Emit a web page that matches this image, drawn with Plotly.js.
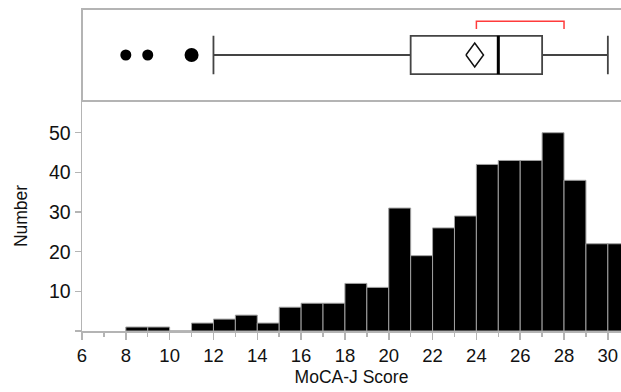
<!DOCTYPE html>
<html><head><meta charset="utf-8">
<script src="https://cdn.plot.ly/plotly-3.0.1.min.js"></script>
<style>html,body{margin:0;padding:0;background:#fff}#chart{width:621px;height:392px}</style>
</head><body><div id="chart"></div>
<script>
// MoCA-J score values and the number of subjects at each score
const scores = [8,9,10,11,12,13,14,15,16,17,18,19,20,21,22,23,24,25,26,27,28,29,30];
const counts = [1,1,0,2,3,4,2,6,7,7,12,11,31,19,26,29,42,43,43,50,38,22,22];
const xTickVals = [6,8,10,12,14,16,18,20,22,24,26,28,30];
const yTickVals = [0,10,20,30,40,50];
const yTickText = ['', '10', '20', '30', '40', '50'];

// expand to individual observations
const obs = [];
scores.forEach((s, i) => { for (let k = 0; k < counts[i]; k++) obs.push(s); });
obs.sort((a, b) => a - b);
const n = obs.length;
function quant(p) {
  const pos = p * (n + 1);
  const lo = Math.floor(pos), hi = Math.ceil(pos);
  const a = obs[Math.max(0, Math.min(n - 1, lo - 1))];
  const b = obs[Math.max(0, Math.min(n - 1, hi - 1))];
  return a + (b - a) * (pos - lo);
}
const q1 = quant(0.25), med = quant(0.5), q3 = quant(0.75);
const iqr = q3 - q1;
const lowLim = q1 - 1.5 * iqr, highLim = q3 + 1.5 * iqr;
const inside = obs.filter(v => v >= lowLim && v <= highLim);
const lf = Math.min(...inside), uf = Math.max(...inside);
const mean = obs.reduce((a, b) => a + b, 0) / n;
const sd = Math.sqrt(obs.reduce((a, b) => a + (b - mean) * (b - mean), 0) / (n - 1));
const ci = 1.966 * sd / Math.sqrt(n);
// outliers grouped
const outX = [], outN = [];
scores.forEach((s, i) => { if (counts[i] > 0 && (s < lowLim || s > highLim)) { outX.push(s); outN.push(counts[i]); } });
// shortest half
const h = Math.floor(n / 2);
let best = Infinity, shA = 0, shB = 0;
for (let i = 0; i + h < n; i++) {
  const w = obs[i + h] - obs[i];
  if (w < best) { best = w; shA = obs[i]; shB = obs[i + h]; }
}

const gray = '#b4b4b4';
const traces = [
  { type: 'bar', x: scores, y: counts, offset: 0, width: 1,
    marker: { color: '#000', line: { color: '#a0a0a0', width: 1 } },
    xaxis: 'x', yaxis: 'y', hoverinfo: 'skip' },
  { type: 'box', orientation: 'h', y: [0], q1: [q1], median: [med], q3: [q3],
    lowerfence: [lf], upperfence: [uf], boxpoints: false, width: 1, whiskerwidth: 1,
    fillcolor: 'rgba(255,255,255,0)', line: { color: '#444', width: 1.8 },
    xaxis: 'x', yaxis: 'y2', hoverinfo: 'skip' },
  { type: 'scatter', mode: 'lines', x: [med, med], y: [-0.5, 0.5],
    line: { color: '#000', width: 3 }, xaxis: 'x', yaxis: 'y2', hoverinfo: 'skip' },
  { type: 'scatter', mode: 'lines', x: [mean - ci, mean, mean + ci, mean, mean - ci], y: [0, 0.31, 0, -0.31, 0],
    line: { color: '#111', width: 1.5 }, xaxis: 'x', yaxis: 'y2', hoverinfo: 'skip' },
  { type: 'scatter', mode: 'markers', x: outX, y: outX.map(() => 0),
    marker: { color: '#000', opacity: 1, size: outN.map(c => 11 + 3 * (c - 1)), line: { width: 0 } },
    xaxis: 'x', yaxis: 'y2', hoverinfo: 'skip' },
  { type: 'scatter', mode: 'lines', x: [shA, shA, shB, shB], y: [0.68, 0.88, 0.88, 0.68],
    line: { color: '#ff3b3b', width: 1.5 }, xaxis: 'x', yaxis: 'y2', hoverinfo: 'skip' }
];

const split = 230 / 322;
const layout = {
  width: 621, height: 392,
  margin: { l: 82, r: 0, t: 9, b: 61 },
  showlegend: false,
  paper_bgcolor: '#fff', plot_bgcolor: '#fff',
  font: { family: '"Liberation Sans", Arial, sans-serif', size: 18, color: '#111' },
  xaxis: {
    anchor: 'y', range: [6, 30.6], tickmode: 'array', tickvals: xTickVals,
    tickfont: { size: 18.5 },
    ticks: 'outside', ticklen: 7, tickwidth: 1.5, tickcolor: gray,
    minor: { dtick: 1, tick0: 6, ticks: 'outside', ticklen: 4, tickwidth: 1.5, tickcolor: gray },
    showline: true, linecolor: gray, linewidth: 1.5, showgrid: false, zeroline: false,
    title: { text: 'MoCA-J Score', font: { size: 17.5 }, standoff: 6 }
  },
  yaxis: {
    domain: [0, split], range: [0, 58], tickmode: 'array', tickvals: yTickVals, ticktext: yTickText,
    tickfont: { size: 19.5 },
    ticks: 'outside', ticklen: 6, tickwidth: 1.5, tickcolor: gray,
    showline: true, linecolor: gray, linewidth: 1.5, showgrid: false, zeroline: false,
    title: { text: 'Number', font: { size: 17.5 }, standoff: 17 }
  },
  yaxis2: {
    domain: [split, 1], range: [-1.2, 1.2], anchor: 'x',
    showticklabels: false, ticks: '', showgrid: false, zeroline: false, showline: false
  },
  shapes: [
    { type: 'rect', xref: 'paper', yref: 'paper', x0: 0, x1: 1.02, y0: split, y1: 1,
      line: { color: gray, width: 2 }, fillcolor: 'rgba(0,0,0,0)' }
  ]
};
Plotly.newPlot('chart', traces, layout, { displayModeBar: false, staticPlot: true });
</script>
</body></html>
